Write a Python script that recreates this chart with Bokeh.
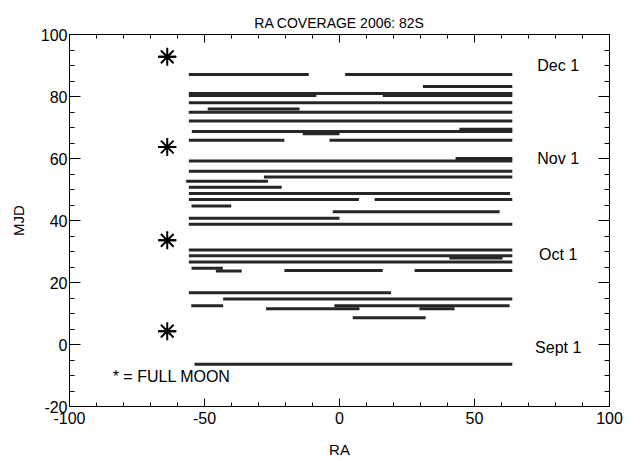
from bokeh.plotting import figure
from bokeh.models import ColumnDataSource, LinearAxis, FixedTicker, Range1d, Label, CustomJSTickFormatter
from bokeh.core.properties import value
from bokeh.embed import file_html
from bokeh.resources import INLINE

FONT = "Liberation Sans"

# Observed coverage segments: MJD offset (y), RA start, RA end
seg_y = [87.1, 87.1, 83.2, 81.0, 80.3, 80.3, 78.0, 76.0, 74.9, 72.1,
         68.7, 68.0, 69.4, 65.9, 65.9, 59.2, 60.0, 55.9, 54.0, 52.7,
         50.7, 48.7, 46.8, 46.8, 44.7, 42.8, 40.7, 38.8, 30.5, 28.6,
         27.9, 26.6, 24.6, 23.7, 23.9, 23.9, 16.7, 14.7, 12.5, 12.5,
         11.5, 11.5, 8.6, -6.4]
seg_x0 = [-55.8, 2.1, 30.9, -55.8, -55.8, 16.0, -55.8, -48.8, -55.8, -55.8,
          -54.7, -13.6, 44.4, -55.8, -3.7, -55.8, 43.0, -55.8, -28.0, -56.8,
          -55.8, -55.8, -55.8, 13.0, -54.8, -2.5, -55.8, -55.8, -55.8, -55.8,
          40.7, -55.8, -54.8, -45.8, -20.4, 27.8, -55.8, -43.1, -54.9, -1.9,
          -27.2, 29.6, 4.9, -53.7]
seg_x1 = [-11.4, 64.0, 64.0, 64.0, -8.6, 64.0, 64.0, -14.8, 64.0, 64.0,
          64.0, 0.0, 64.0, -20.4, 64.0, 64.0, 64.0, 64.0, 64.0, -26.5,
          -21.4, 63.2, 7.2, 64.0, -40.1, 59.3, 0.0, 64.0, 64.0, 64.0,
          60.4, 64.0, -43.2, -36.2, 16.0, 64.0, 19.1, 64.0, -43.1, 63.0,
          7.4, 42.6, 31.9, 64.0]

# Full moons
moon_ra = [-63.8, -63.8, -63.8, -63.8]
moon_mjd = [4.3, 33.6, 63.7, 92.8]

# Month labels
month_labels = ["Sept 1", "Oct 1", "Nov 1", "Dec 1"]
month_mjd = [0, 30, 61, 91]
month_ra = [81, 81, 81, 81]

title_text = "RA COVERAGE 2006: 82S"

x_ticks = [-100, -50, 0, 50, 100]
y_ticks = [-20, 0, 20, 40, 60, 80, 100]
x_minor = [v for v in range(-100, 101, 10)]
y_minor = [v for v in range(-20, 101, 5)]

p = figure(width=633, height=460, x_range=Range1d(-100, 100), y_range=Range1d(-20, 100),
           output_backend="svg", toolbar_location=None,
           min_border_left=69, min_border_right=24, min_border_top=34, min_border_bottom=51,
           x_axis_label="RA", y_axis_label="MJD")
p.title.text = title_text
p.title.align = "center"
p.title.text_font = FONT
p.title.text_font_size = "14px"
p.title.text_font_style = "normal"
p.title.text_color = "black"
p.title.standoff = 8
p.title.offset = 0

p.xgrid.visible = False
p.ygrid.visible = False
p.outline_line_color = "black"
p.outline_line_width = 1
p.background_fill_color = "white"
p.border_fill_color = "white"

blank = CustomJSTickFormatter(code="return '';")

def style_axis(ax, ticks, minor, tick_len, labels=True, blank_standoff=0):
    ax.ticker = FixedTicker(ticks=ticks, minor_ticks=minor)
    ax.major_tick_in = tick_len
    ax.major_tick_out = 0
    ax.minor_tick_in = tick_len // 2
    ax.minor_tick_out = 0
    ax.axis_line_color = "black"
    ax.major_tick_line_color = "black"
    ax.minor_tick_line_color = "black"
    if labels:
        ax.major_label_overrides = {t: str(t) for t in ticks if t < 0}
        ax.major_label_text_font = FONT
        ax.major_label_text_font_size = "16px"
        ax.major_label_text_color = "black"
        ax.axis_label_text_font = FONT
        ax.axis_label_text_font_size = "15px"
        ax.axis_label_text_font_style = "normal"
        ax.axis_label_text_color = "black"
    else:
        ax.formatter = blank
        ax.major_label_text_font_size = "8px"
        ax.major_label_standoff = blank_standoff

style_axis(p.xaxis[0], x_ticks, x_minor, 8)
style_axis(p.yaxis[0], y_ticks, y_minor, 11)
p.xaxis[0].major_label_standoff = 5
p.xaxis[0].axis_label_standoff = 14
p.yaxis[0].major_label_standoff = 2
p.yaxis[0].axis_label_standoff = 11

top_ax = LinearAxis()
right_ax = LinearAxis()
style_axis(top_ax, x_ticks, x_minor, 8, labels=False, blank_standoff=8)
style_axis(right_ax, y_ticks, y_minor, 11, labels=False)
p.add_layout(top_ax, "above")
p.add_layout(right_ax, "right")

src = ColumnDataSource(dict(x0=seg_x0, x1=seg_x1, y=seg_y))
p.segment(x0="x0", y0="y", x1="x1", y1="y", source=src, line_color="#262626",
          line_width=3, line_cap="butt")

moon_src = ColumnDataSource(dict(x=moon_ra, y=moon_mjd))
p.scatter(x="x", y="y", source=moon_src, marker="asterisk", size=18,
          line_color="black", line_width=2)
p.scatter(x="x", y="y", source=moon_src, marker="dash", size=18,
          line_color="black", line_width=2)

month_src = ColumnDataSource(dict(x=month_ra, y=month_mjd, t=month_labels))
p.text(x="x", y="y", text="t", source=month_src, text_font=value(FONT),
       text_font_size="16px", text_align="center", text_baseline="middle",
       text_color="black", y_offset=3)

p.add_layout(Label(x=-84, y=-10.3, text="* = FULL MOON", text_font=FONT,
                   text_font_size="16px", text_baseline="middle", text_align="left",
                   text_color="black"))

open("out.html", "w").write(file_html(p, INLINE))
